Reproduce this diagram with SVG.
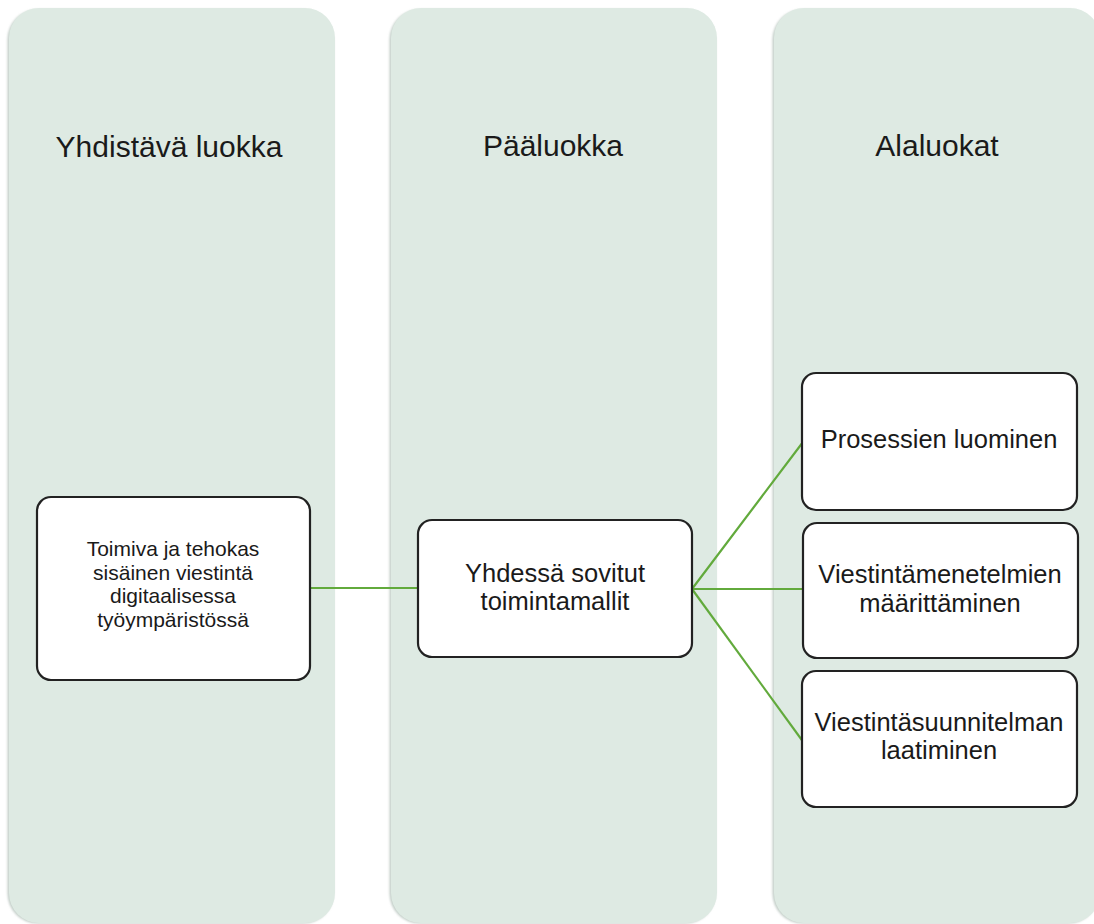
<svg xmlns="http://www.w3.org/2000/svg" width="1094" height="924" viewBox="0 0 1094 924">
  <defs>
    <filter id="soft" x="-5%" y="-5%" width="110%" height="110%">
      <feGaussianBlur stdDeviation="1"/>
    </filter>
  </defs>
  <style>
    .col-hi { fill: #ffffff; filter: url(#soft); }
    .col-sh { fill: #c3cec8; filter: url(#soft); }
    .col { fill: #deeae3; }
    .head { font-family: "Liberation Sans", Arial, sans-serif; font-size: 30px; fill: #1a1a1a; text-anchor: middle; }
    .box { fill: #ffffff; stroke: #222222; stroke-width: 2.2; }
    .lbl { font-family: "Liberation Sans", Arial, sans-serif; font-size: 25.5px; fill: #1a1a1a; text-anchor: middle; }
    .lbl-s { font-family: "Liberation Sans", Arial, sans-serif; font-size: 21px; fill: #1a1a1a; text-anchor: middle; }
    .link { stroke: #62aa3c; stroke-width: 2.2; fill: none; stroke-linecap: round; }
  </style>

  <rect width="1094" height="924" fill="#ffffff"/>

  <!-- column backgrounds -->
  <g id="column-1">
    <rect class="col-hi" x="10.5" y="6.5" width="326" height="920" rx="30"/>
    <rect class="col-sh" x="7.5" y="9.5" width="326" height="914" rx="30"/>
    <rect class="col" x="9" y="8" width="326" height="915" rx="30"/>
    <text class="head" x="169" y="157">Yhdistävä luokka</text>
  </g>
  <g id="column-2">
    <rect class="col-hi" x="392.5" y="6.5" width="326" height="920" rx="30"/>
    <rect class="col-sh" x="389.5" y="9.5" width="326" height="914" rx="30"/>
    <rect class="col" x="391" y="8" width="326" height="915" rx="30"/>
    <text class="head" x="553" y="156">Pääluokka</text>
  </g>
  <g id="column-3">
    <rect class="col-hi" x="775.5" y="6.5" width="326" height="920" rx="30"/>
    <rect class="col-sh" x="772.5" y="9.5" width="326" height="914" rx="30"/>
    <rect class="col" x="774" y="8" width="326" height="915" rx="30"/>
    <text class="head" x="937" y="156">Alaluokat</text>
  </g>

  <!-- connectors -->
  <g id="connectors">
    <line class="link" x1="310" y1="588" x2="418" y2="588"/>
    <line class="link" x1="692" y1="589" x2="803" y2="442"/>
    <line class="link" x1="692" y1="589" x2="803" y2="589" stroke-width="3"/>
    <line class="link" x1="692" y1="589" x2="804" y2="743"/>
  </g>

  <!-- nodes -->
  <g id="node-combined">
    <rect class="box" x="37" y="497" width="273" height="183" rx="14"/>
    <text class="lbl-s" x="173" y="556">Toimiva ja tehokas</text>
    <text class="lbl-s" x="173" y="579.5">sisäinen viestintä</text>
    <text class="lbl-s" x="173" y="603">digitaalisessa</text>
    <text class="lbl-s" x="173" y="626.5">työympäristössä</text>
  </g>
  <g id="node-main">
    <rect class="box" x="418" y="520" width="274" height="137" rx="14"/>
    <text class="lbl" x="555" y="582">Yhdessä sovitut</text>
    <text class="lbl" x="555" y="610">toimintamallit</text>
  </g>
  <g id="node-sub-1">
    <rect class="box" x="802" y="373" width="275" height="137" rx="14"/>
    <text class="lbl" x="939" y="448">Prosessien luominen</text>
  </g>
  <g id="node-sub-2">
    <rect class="box" x="803" y="523" width="275" height="135" rx="14"/>
    <text class="lbl" x="940" y="583">Viestintämenetelmien</text>
    <text class="lbl" x="940" y="612">määrittäminen</text>
  </g>
  <g id="node-sub-3">
    <rect class="box" x="802" y="671" width="275" height="136" rx="14"/>
    <text class="lbl" x="939" y="731">Viestintäsuunnitelman</text>
    <text class="lbl" x="939" y="759">laatiminen</text>
  </g>
</svg>
